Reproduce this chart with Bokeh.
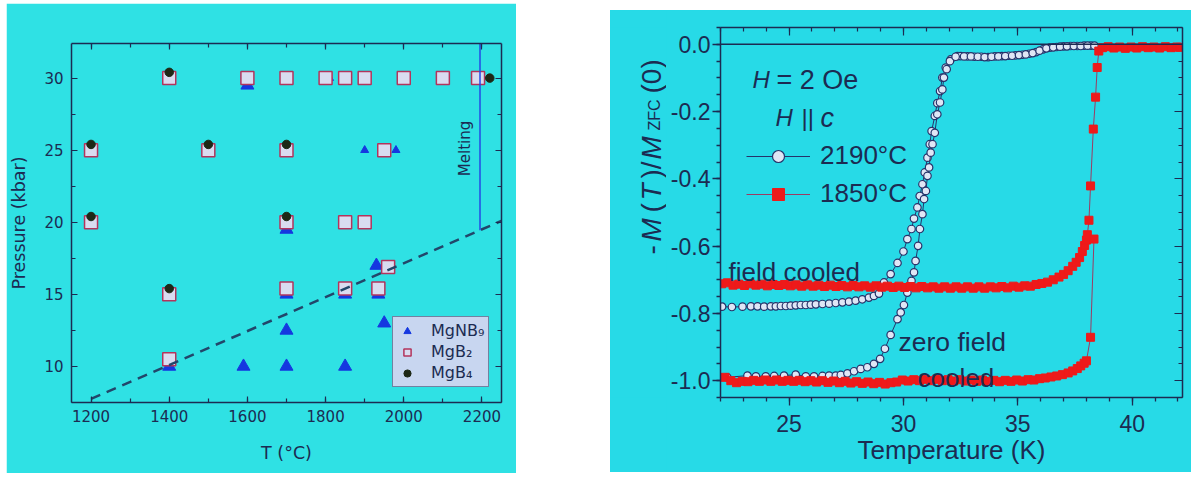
from math import pi
from bokeh.plotting import figure
from bokeh.models import (Range1d, LinearAxis, SingleIntervalTicker, Legend, LegendItem,
                          Label, Span, NumeralTickFormatter, CustomJSTickFormatter, Spacer)
from bokeh.layouts import row, column
from bokeh.embed import file_html
from bokeh.resources import INLINE

# ---------------- Left panel data: synthesis map ----------------
mgnb9_t = [1600, 1700, 1930, 1700, 1850, 1935, 1700, 1950, 1400, 1590, 1700, 1850]
mgnb9_p = [29.5, 19.5, 17.0, 15.0, 15.0, 15.0, 12.5, 13.0, 10.0, 10.0, 10.0, 10.0]
mgnb9_small_t = [1810, 1900, 1980]
mgnb9_small_p = [30.0, 25.0, 25.0]
mgb2_t = [1400, 1600, 1700, 1800, 1850, 1900, 2000, 2100, 2190,
          1200, 1500, 1700, 1950,
          1200, 1700, 1850, 1900,
          1960,
          1400, 1700, 1850, 1935,
          1400]
mgb2_p = [30, 30, 30, 30, 30, 30, 30, 30, 30,
          25, 25, 25, 25,
          20, 20, 20, 20,
          16.9,
          15.0, 15.4, 15.4, 15.4,
          10.5]
mgb4_t = [1400, 1200, 1500, 1700, 1200, 1700, 1400, 2220]
mgb4_p = [30.4, 25.4, 25.4, 25.4, 20.4, 20.4, 15.4, 30.0]
boundary_t = [1200, 2250]
boundary_p = [7.75, 20.1]
melting_t = [2195, 2195]
melting_p = [19.45, 32.4]

# ---------------- Right panel data: magnetisation ----------------
fc2190_t = [22.07, 22.5, 22.96, 23.33, 23.62, 23.91, 24.2, 24.42, 24.64, 24.86, 25.07, 25.29,
            25.51, 25.73, 25.95, 26.17, 26.46, 26.75, 27.04, 27.33, 27.62, 27.91, 28.2, 28.49,
            28.71, 28.93, 29.15, 29.44, 29.74, 30.0, 30.17, 30.35, 30.46, 30.61, 30.71, 30.83,
            30.93, 31.05, 31.15, 31.23, 31.37, 31.48, 31.6, 31.7, 31.85, 32.06, 32.36,
            32.5, 32.8, 33.1, 33.4, 33.7, 34.0, 34.3, 34.6, 34.9, 35.2, 35.5, 35.8, 36.1, 36.4,
            36.7, 37.0, 37.3, 37.6, 37.9, 38.2]
fc2190_m = [-0.780, -0.781, -0.780, -0.779, -0.779, -0.780, -0.779, -0.779, -0.778, -0.778, -0.777, -0.776,
            -0.775, -0.775, -0.774, -0.773, -0.772, -0.771, -0.769, -0.767, -0.765, -0.762, -0.758, -0.753,
            -0.748, -0.741, -0.708, -0.683, -0.650, -0.616, -0.579, -0.549, -0.518, -0.485, -0.451, -0.416,
            -0.381, -0.337, -0.297, -0.258, -0.213, -0.175, -0.139, -0.099, -0.069, -0.045, -0.035,
            -0.035, -0.036, -0.037, -0.037, -0.038, -0.036, -0.035, -0.034, -0.033, -0.031, -0.028, -0.023,
            -0.015, -0.010, -0.008, -0.006, -0.005, -0.005, -0.004, -0.004]
zfc2190_t = [22.3, 23.18, 23.55, 23.98, 24.35, 24.78, 25.29, 25.73, 26.09, 26.46, 26.75, 27.04,
             27.26, 27.55, 27.84, 28.13, 28.42, 28.71, 28.98, 29.19, 29.44, 29.74, 29.88, 30.02,
             30.17, 30.35, 30.46, 30.53, 30.64, 30.72, 30.83, 30.9, 30.98, 31.05, 31.12, 31.19,
             31.27, 31.37, 31.48, 31.6, 31.7, 31.77, 31.89, 32.03, 32.28,
             32.65, 32.95, 33.25, 33.55, 33.85, 34.15, 34.45, 34.75, 35.05, 35.35, 35.65, 35.95,
             36.25, 36.55, 36.85, 37.15, 37.45, 37.75, 38.05, 38.35]
zfc2190_m = [-0.990, -0.985, -0.987, -0.987, -0.986, -0.985, -0.982, -0.987, -0.987, -0.986, -0.985, -0.985,
             -0.983, -0.978, -0.972, -0.965, -0.960, -0.950, -0.935, -0.905, -0.864, -0.817, -0.797, -0.775,
             -0.738, -0.703, -0.678, -0.644, -0.599, -0.549, -0.505, -0.460, -0.436, -0.391, -0.366, -0.322,
             -0.297, -0.263, -0.208, -0.173, -0.134, -0.099, -0.074, -0.050, -0.037,
             -0.036, -0.036, -0.037, -0.038, -0.037, -0.036, -0.035, -0.034, -0.032, -0.030, -0.026, -0.019,
             -0.012, -0.009, -0.007, -0.006, -0.005, -0.005, -0.004, -0.004]
fc1850_t = [22.05, 22.3, 22.55, 22.8, 23.05, 23.3, 23.55, 23.8, 24.05, 24.3, 24.55, 24.8, 25.05,
            25.3, 25.55, 25.8, 26.05, 26.3, 26.55, 26.8, 27.05, 27.3, 27.55, 27.8, 28.05, 28.3,
            28.55, 28.8, 29.05, 29.3, 29.55, 29.8, 30.05, 30.3, 30.55, 30.8, 31.05, 31.3, 31.55,
            31.8, 32.05, 32.3, 32.55, 32.8, 33.05, 33.3, 33.55, 33.8, 34.05, 34.3, 34.55, 34.8,
            35.05, 35.3, 35.55, 35.8, 36.05, 36.3, 36.55, 36.8, 37.0, 37.2, 37.4, 37.55, 37.7,
            37.82, 37.92, 38.0, 38.04, 38.11, 38.18, 38.3, 38.4, 38.47, 38.54,
            38.7, 38.95, 39.2, 39.45, 39.7, 39.95, 40.2, 40.45, 40.7, 40.95, 41.2, 41.45, 41.7, 41.95, 42.1]
fc1850_m = [-0.712, -0.709, -0.716, -0.713, -0.717, -0.712, -0.716, -0.713, -0.718, -0.714, -0.717, -0.714,
            -0.718, -0.715, -0.719, -0.715, -0.719, -0.716, -0.720, -0.716, -0.720, -0.717, -0.721, -0.717,
            -0.721, -0.718, -0.722, -0.718, -0.722, -0.719, -0.723, -0.719, -0.723, -0.720, -0.724, -0.720,
            -0.724, -0.721, -0.725, -0.721, -0.725, -0.721, -0.725, -0.721, -0.725, -0.721, -0.725, -0.721,
            -0.724, -0.720, -0.724, -0.719, -0.722, -0.718, -0.719, -0.714, -0.711, -0.707, -0.700, -0.692,
            -0.684, -0.673, -0.660, -0.648, -0.634, -0.616, -0.598, -0.582, -0.566, -0.523, -0.421, -0.252,
            -0.157, -0.069, -0.020,
            -0.010, -0.007, -0.011, -0.008, -0.012, -0.008, -0.011, -0.007, -0.010, -0.008, -0.011, -0.007,
            -0.010, -0.008, -0.009]
zfc1850_t = [22.2, 22.45, 22.7, 22.95, 23.2, 23.45, 23.7, 23.95, 24.2, 24.45, 24.7, 24.95, 25.2,
             25.45, 25.7, 25.95, 26.2, 26.45, 26.7, 26.95, 27.2, 27.45, 27.7, 27.95, 28.2, 28.45,
             28.7, 28.95, 29.2, 29.45, 29.7, 29.95, 30.2, 30.45, 30.7, 30.95, 31.2, 31.45, 31.7,
             31.95, 32.2, 32.45, 32.7, 32.95, 33.2, 33.45, 33.7, 33.95, 34.2, 34.45, 34.7, 34.95,
             35.2, 35.45, 35.7, 35.95, 36.2, 36.45, 36.7, 36.95, 37.2, 37.4, 37.6, 37.75, 37.9,
             38.0, 38.18, 38.33]
zfc1850_m = [-0.990, -1.000, -1.006, -1.002, -1.003, -0.999, -1.002, -0.998, -1.002, -0.998, -1.002, -0.999,
             -1.002, -0.999, -1.003, -1.000, -1.004, -1.000, -1.005, -1.001, -1.006, -1.002, -1.007, -1.003,
             -1.008, -1.004, -1.009, -1.005, -1.010, -1.006, -1.004, -0.998, -1.001, -0.997, -1.000, -0.996,
             -1.000, -0.996, -1.000, -0.997, -1.001, -0.997, -1.001, -0.998, -1.002, -0.998, -1.002, -0.999,
             -1.003, -0.999, -1.002, -0.998, -1.001, -0.997, -0.998, -0.994, -0.992, -0.989, -0.986, -0.982,
             -0.977, -0.971, -0.964, -0.956, -0.948, -0.941, -0.871, -0.579]

# ---------------- styles ----------------
LEFT_BG = "#2fe1e4"
RIGHT_BG = "#27dae7"
NAVY = "#1c2b52"
LFONT = "DejaVu Sans"
RFONT = "Liberation Sans"


def blank_axis(ticker, tin, tmin):
    ax = LinearAxis(ticker=ticker, formatter=CustomJSTickFormatter(code="return ''"),
                    major_label_text_font_size="0px", major_label_standoff=0,
                    major_tick_in=tin, major_tick_out=0, minor_tick_in=tmin, minor_tick_out=0,
                    axis_line_color=NAVY, axis_line_width=1.5,
                    major_tick_line_color=NAVY, minor_tick_line_color=NAVY,
                    major_tick_line_width=1.2, minor_tick_line_width=1.2)
    return ax


def lab(fig, text, X, Y, size, fl, fb, italic=False, angle=0.0, font=RFONT):
    """Text placed by page pixel position (X, Y = baseline start); fl/fb = frame left/bottom."""
    fig.add_layout(Label(x=X - fl, y=fb - Y, x_units="screen", y_units="screen", text=text,
                         angle=angle, text_align="left", text_baseline="alphabetic",
                         text_font=font, text_font_size=size, text_color=NAVY,
                         text_font_style="italic" if italic else "normal"))


# =============== LEFT FIGURE ===============
p1 = figure(width=510, height=470, x_range=Range1d(1150, 2250), y_range=Range1d(7.5, 32.4),
            output_backend="svg", toolbar_location=None,
            min_border_left=64, min_border_right=15, min_border_top=40, min_border_bottom=71,
            background_fill_color=LEFT_BG, border_fill_color=LEFT_BG, outline_line_color=None)
p1.grid.visible = False
p1.xaxis.ticker = SingleIntervalTicker(interval=200, num_minor_ticks=2)
p1.yaxis.ticker = SingleIntervalTicker(interval=5, num_minor_ticks=2)
for ax in (p1.xaxis[0], p1.yaxis[0]):
    ax.axis_line_color = NAVY
    ax.axis_line_width = 1.5
    ax.major_tick_in = 6
    ax.major_tick_out = 0
    ax.minor_tick_in = 4
    ax.minor_tick_out = 0
    ax.major_tick_line_color = NAVY
    ax.minor_tick_line_color = NAVY
    ax.major_tick_line_width = 1.2
    ax.minor_tick_line_width = 1.2
    ax.major_label_text_font = LFONT
    ax.major_label_text_font_size = "15px"
    ax.major_label_text_color = NAVY
    ax.axis_label_text_font = LFONT
    ax.axis_label_text_font_size = "17.5px"
    ax.axis_label_text_font_style = "normal"
    ax.axis_label_text_color = NAVY
p1.xaxis.axis_label = "T (°C)"
p1.yaxis.axis_label = "Pressure (kbar)"
p1.xaxis.major_label_standoff = 7
p1.xaxis.axis_label_standoff = 18
p1.yaxis.major_label_standoff = 8
p1.yaxis.axis_label_standoff = 12
p1.add_layout(blank_axis(SingleIntervalTicker(interval=200, num_minor_ticks=2), 6, 4), "above")
p1.add_layout(blank_axis(SingleIntervalTicker(interval=5, num_minor_ticks=2), 6, 4), "right")

r_tri = p1.scatter(mgnb9_t, mgnb9_p, marker="triangle", size=13, fill_color="#1538e0",
                   line_color="#1538e0")
p1.scatter(mgnb9_small_t, mgnb9_small_p, marker="triangle", size=8, fill_color="#1538e0",
           line_color="#1538e0")
r_sq = p1.scatter(mgb2_t, mgb2_p, marker="square", size=13, fill_color="#d9dcf0",
                  line_color="#b3345c", line_width=1.5)
r_dot = p1.scatter(mgb4_t, mgb4_p, marker="circle", size=8.5, fill_color="#1d2816",
                   line_color="#1d2816")
p1.line(boundary_t, boundary_p, line_color="#22466a", line_width=2.5, line_dash="10 7")
p1.line(melting_t, melting_p, line_color="#2447e6", line_width=1.5)

p1.add_layout(Label(x=393, y=254, x_units="screen", y_units="screen", text="Melting",
                    angle=pi / 2, text_align="center", text_baseline="middle",
                    text_font=LFONT, text_font_size="15px", text_color=NAVY))

leg1 = Legend(items=[LegendItem(label="MgNB₉", renderers=[r_tri]),
                     LegendItem(label="MgB₂", renderers=[r_sq]),
                     LegendItem(label="MgB₄", renderers=[r_dot])],
              location=(321, 15), background_fill_color="#c8d6f0", background_fill_alpha=1.0,
              border_line_color=NAVY, border_line_width=1.5,
              label_text_font=LFONT, label_text_font_size="16px", label_text_color=NAVY,
              glyph_width=20, glyph_height=18, label_standoff=14, padding=4, spacing=2, margin=0)
p1.add_layout(leg1)

# =============== RIGHT: y-label strip ===============
STRIP_W = 56
p3 = figure(width=STRIP_W, height=462, x_range=Range1d(0, 1), y_range=Range1d(0, 1),
            output_backend="svg", toolbar_location=None, x_axis_location=None, y_axis_location=None,
            min_border=0, min_border_left=0, min_border_right=0, min_border_top=0, min_border_bottom=0,
            background_fill_color=RIGHT_BG, border_fill_color=RIGHT_BG, outline_line_color=None)
p3.grid.visible = False
SL, SB = 610, 472  # strip frame left / bottom in page pixels
A = pi / 2
BX = 651
lab(p3, "-", BX, 329, "28px", SL, SB, angle=A)
lab(p3, "M", BX, 316, "28px", SL, SB, italic=True, angle=A)
lab(p3, "(", BX, 287, "28px", SL, SB, angle=A)
lab(p3, "T", BX, 275, "28px", SL, SB, italic=True, angle=A)
lab(p3, ")/", BX, 253, "28px", SL, SB, angle=A)
lab(p3, "M", BX, 234, "28px", SL, SB, italic=True, angle=A)
lab(p3, "ZFC", BX + 3, 205, "16px", SL, SB, angle=A)
lab(p3, "(0)", BX, 168, "28px", SL, SB, angle=A)

# =============== RIGHT FIGURE ===============
p2 = figure(width=581 - STRIP_W, height=462, x_range=Range1d(22, 42.2), y_range=Range1d(-1.05, 0.05),
            output_backend="svg", toolbar_location=None,
            min_border_left=720 - 610 - STRIP_W, min_border_right=9, min_border_top=17,
            min_border_bottom=75,
            background_fill_color=RIGHT_BG, border_fill_color=RIGHT_BG, outline_line_color=None)
p2.grid.visible = False
p2.xaxis.ticker = SingleIntervalTicker(interval=5, num_minor_ticks=5)
p2.yaxis.ticker = SingleIntervalTicker(interval=0.2, num_minor_ticks=4)
p2.yaxis.formatter = NumeralTickFormatter(format="0.0")
for ax in (p2.xaxis[0], p2.yaxis[0]):
    ax.axis_line_color = NAVY
    ax.axis_line_width = 1.5
    ax.major_tick_in = 0
    ax.major_tick_out = 8
    ax.minor_tick_in = 0
    ax.minor_tick_out = 4
    ax.major_tick_line_color = NAVY
    ax.minor_tick_line_color = NAVY
    ax.major_tick_line_width = 1.3
    ax.minor_tick_line_width = 1.3
    ax.major_label_text_font = RFONT
    ax.major_label_text_font_size = "23px"
    ax.major_label_text_color = NAVY
p2.xaxis.axis_label = "Temperature (K)"
p2.xaxis.axis_label_text_font = RFONT
p2.xaxis.axis_label_text_font_size = "26px"
p2.xaxis.axis_label_text_font_style = "normal"
p2.xaxis.axis_label_text_color = NAVY
p2.xaxis.major_label_standoff = 9
p2.xaxis.axis_label_standoff = 0
p2.yaxis.major_label_standoff = 2
p2.add_layout(blank_axis(SingleIntervalTicker(interval=5, num_minor_ticks=5), 8, 4), "above")
p2.add_layout(blank_axis(SingleIntervalTicker(interval=0.2, num_minor_ticks=4), 8, 4), "right")
p2.add_layout(Span(location=0, dimension="width", line_color=NAVY, line_width=1.5))

c_line = "#26336a"
c_fill = "#dfe6f5"
l_fc2190 = p2.line(fc2190_t, fc2190_m, line_color=c_line, line_width=1)
s_fc2190 = p2.scatter(fc2190_t, fc2190_m, marker="circle", size=7.5, fill_color=c_fill,
                      line_color=c_line, line_width=1.2)
p2.line(zfc2190_t, zfc2190_m, line_color=c_line, line_width=1)
p2.scatter(zfc2190_t, zfc2190_m, marker="circle", size=7.5, fill_color=c_fill,
           line_color=c_line, line_width=1.2)

r_line = "#9c3b62"
r_fill = "#ee1a1a"
l_fc1850 = p2.line(fc1850_t, fc1850_m, line_color=r_line, line_width=1)
s_fc1850 = p2.scatter(fc1850_t, fc1850_m, marker="square", size=8, fill_color=r_fill,
                      line_color=r_fill)
p2.line(zfc1850_t, zfc1850_m, line_color=r_line, line_width=1)
p2.scatter(zfc1850_t, zfc1850_m, marker="square", size=8, fill_color=r_fill, line_color=r_fill)

leg2 = Legend(items=[LegendItem(label="2190°C", renderers=[l_fc2190, s_fc2190]),
                     LegendItem(label="1850°C", renderers=[l_fc1850, s_fc1850])],
              location=(26, 188), background_fill_alpha=0, border_line_color=None,
              label_text_font=RFONT, label_text_font_size="26px", label_text_color=NAVY,
              glyph_width=64, glyph_height=30, label_height=30, label_standoff=10,
              padding=0, spacing=7, margin=0)
p2.add_layout(leg2)

FL, FB = 720, 397  # frame left / bottom of the right plot in page pixels
lab(p2, "H", 752, 79, "24px", FL, FB, italic=True)
lab(p2, "= 2 Oe", 776, 79, "27px", FL, FB)
lab(p2, "H", 775, 117, "24px", FL, FB, italic=True)
lab(p2, "||", 801, 117, "24px", FL, FB)
lab(p2, "c", 820, 117, "27px", FL, FB, italic=True)
lab(p2, "field cooled", 728, 271, "26px", FL, FB)
lab(p2, "zero field", 898, 341, "26.5px", FL, FB)
lab(p2, "cooled", 917, 377, "26px", FL, FB)

right_block = row(p3, p2, styles={"background-color": RIGHT_BG})
layout = row(Spacer(width=6), column(Spacer(height=3), p1), Spacer(width=94),
             column(Spacer(height=10), right_block))

open("out.html", "w").write(file_html(layout, INLINE))
